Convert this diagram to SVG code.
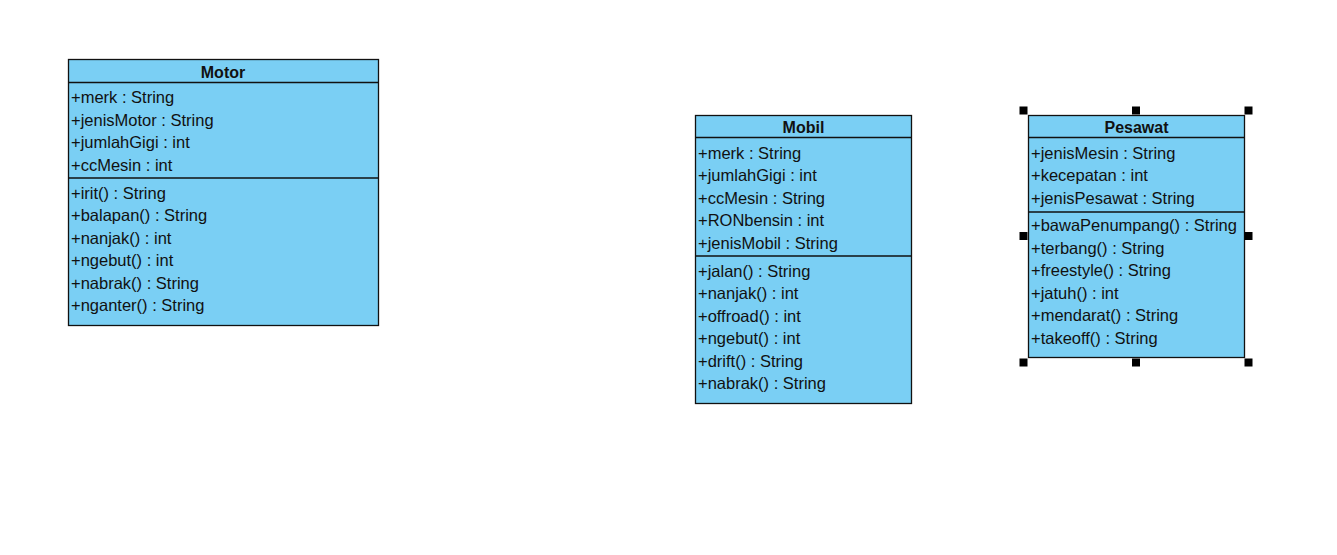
<svg xmlns="http://www.w3.org/2000/svg" width="1337" height="555" viewBox="0 0 1337 555">
<style>
.box{fill:#7acff4;stroke:#111;stroke-width:1.3}
.ln{stroke:#111;stroke-width:1.3}
.t{font-family:"Liberation Sans",Arial,sans-serif;font-size:16.5px;fill:#111}
.h{font-family:"Liberation Sans",Arial,sans-serif;font-size:16px;font-weight:bold;fill:#111;text-anchor:middle}
.hd{fill:#000}
</style>
<rect width="1337" height="555" fill="#fff"/>
<g id="motor">
<rect class="box" x="68.5" y="59.5" width="310" height="266"/>
<line class="ln" x1="68.5" y1="82.5" x2="378.5" y2="82.5"/>
<line class="ln" x1="68.5" y1="178" x2="378.5" y2="178"/>
<text class="h" x="223" y="77.5">Motor</text>
<text class="t" x="71" y="103.3">+merk : String</text>
<text class="t" x="71" y="125.8">+jenisMotor : String</text>
<text class="t" x="71" y="148.3">+jumlahGigi : int</text>
<text class="t" x="71" y="170.8">+ccMesin : int</text>
<text class="t" x="71" y="198.8">+irit() : String</text>
<text class="t" x="71" y="221.3">+balapan() : String</text>
<text class="t" x="71" y="243.8">+nanjak() : int</text>
<text class="t" x="71" y="266.3">+ngebut() : int</text>
<text class="t" x="71" y="288.8">+nabrak() : String</text>
<text class="t" x="71" y="311.3">+nganter() : String</text>
</g>
<g id="mobil">
<rect class="box" x="695.5" y="115.5" width="216" height="288"/>
<line class="ln" x1="695.5" y1="137.5" x2="911.5" y2="137.5"/>
<line class="ln" x1="695.5" y1="256" x2="911.5" y2="256"/>
<text class="h" x="803.5" y="133">Mobil</text>
<text class="t" x="698" y="158.8">+merk : String</text>
<text class="t" x="698" y="181.3">+jumlahGigi : int</text>
<text class="t" x="698" y="203.8">+ccMesin : String</text>
<text class="t" x="698" y="226.3">+RONbensin : int</text>
<text class="t" x="698" y="248.8">+jenisMobil : String</text>
<text class="t" x="698" y="276.8">+jalan() : String</text>
<text class="t" x="698" y="299.3">+nanjak() : int</text>
<text class="t" x="698" y="321.8">+offroad() : int</text>
<text class="t" x="698" y="344.3">+ngebut() : int</text>
<text class="t" x="698" y="366.8">+drift() : String</text>
<text class="t" x="698" y="389.3">+nabrak() : String</text>
</g>
<g id="pesawat">
<rect class="box" x="1028.5" y="115.5" width="216" height="242"/>
<line class="ln" x1="1028.5" y1="137.5" x2="1244.5" y2="137.5"/>
<line class="ln" x1="1028.5" y1="212" x2="1244.5" y2="212"/>
<text class="h" x="1136.5" y="133">Pesawat</text>
<text class="t" x="1031" y="158.8">+jenisMesin : String</text>
<text class="t" x="1031" y="181.3">+kecepatan : int</text>
<text class="t" x="1031" y="203.8">+jenisPesawat : String</text>
<text class="t" x="1031" y="231.3">+bawaPenumpang() : String</text>
<text class="t" x="1031" y="253.8">+terbang() : String</text>
<text class="t" x="1031" y="276.3">+freestyle() : String</text>
<text class="t" x="1031" y="298.8">+jatuh() : int</text>
<text class="t" x="1031" y="321.3">+mendarat() : String</text>
<text class="t" x="1031" y="343.8">+takeoff() : String</text>
<g id="handles">
<rect class="hd" x="1019.5" y="106.5" width="8" height="8"/>
<rect class="hd" x="1132" y="106.5" width="8" height="8"/>
<rect class="hd" x="1244.5" y="106.5" width="8" height="8"/>
<rect class="hd" x="1019.5" y="232" width="8" height="8"/>
<rect class="hd" x="1244.5" y="232" width="8" height="8"/>
<rect class="hd" x="1019.5" y="358.5" width="8" height="8"/>
<rect class="hd" x="1132" y="358.5" width="8" height="8"/>
<rect class="hd" x="1244.5" y="358.5" width="8" height="8"/>
</g>
</g>
<g id="connectors"/>
</svg>
